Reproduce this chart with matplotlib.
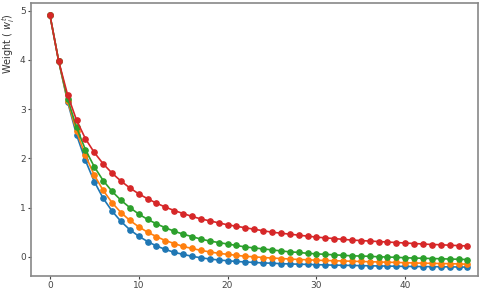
import numpy as np
import matplotlib
matplotlib.use('Agg')
import matplotlib.pyplot as plt

# iteracoes
steps = np.arange(48)

w_blue = [4.92, 3.97, 3.15, 2.48, 1.96, 1.53, 1.19, 0.93, 0.72, 0.55, 0.42, 0.31,
          0.22, 0.15, 0.09, 0.05, 0.01, -0.02, -0.045, -0.065, -0.08, -0.095, -0.105, -0.115,
          -0.125, -0.13, -0.14, -0.145, -0.15, -0.155, -0.16, -0.165, -0.17, -0.173, -0.176, -0.18,
          -0.183, -0.186, -0.189, -0.192, -0.195, -0.197, -0.199, -0.201, -0.203, -0.205, -0.207, -0.21]
w_orange = [4.92, 3.97, 3.17, 2.55, 2.06, 1.66, 1.35, 1.10, 0.90, 0.74, 0.61, 0.50,
            0.41, 0.33, 0.27, 0.21, 0.17, 0.13, 0.10, 0.07, 0.05, 0.03, 0.01, 0.0,
            -0.015, -0.025, -0.035, -0.045, -0.055, -0.06, -0.07, -0.075, -0.08, -0.085, -0.09, -0.095,
            -0.10, -0.105, -0.11, -0.115, -0.12, -0.125, -0.13, -0.133, -0.137, -0.14, -0.145, -0.15]
w_green = [4.92, 3.97, 3.21, 2.63, 2.18, 1.83, 1.55, 1.33, 1.15, 1.00, 0.87, 0.76,
           0.67, 0.59, 0.52, 0.46, 0.41, 0.36, 0.32, 0.29, 0.26, 0.23, 0.20, 0.18,
           0.16, 0.14, 0.12, 0.10, 0.09, 0.07, 0.06, 0.05, 0.04, 0.03, 0.02, 0.015,
           0.01, 0.0, -0.005, -0.01, -0.02, -0.025, -0.03, -0.035, -0.04, -0.045, -0.05, -0.055]
w_red = [4.92, 3.97, 3.29, 2.78, 2.40, 2.12, 1.89, 1.70, 1.54, 1.40, 1.28, 1.18,
         1.09, 1.01, 0.94, 0.88, 0.82, 0.77, 0.73, 0.69, 0.65, 0.62, 0.59, 0.56,
         0.53, 0.50, 0.48, 0.46, 0.44, 0.42, 0.40, 0.385, 0.37, 0.355, 0.34, 0.33,
         0.32, 0.31, 0.30, 0.29, 0.28, 0.27, 0.26, 0.25, 0.245, 0.235, 0.228, 0.22]

series = [(w_blue, 'tab:blue'), (w_orange, 'tab:orange'),
          (w_green, 'tab:green'), (w_red, 'tab:red')]

fig = plt.figure(figsize=(4.8, 2.9), dpi=100)
ax = fig.add_axes([0.065, 0.05, 0.931, 0.94])

for vals, cor in series:
    ax.plot(steps, vals, '-o', color=cor, lw=1.2, ms=3.8)

ax.set_xlim(-2.1, 48.2)
ax.set_ylim(-0.38, 5.16)
ax.set_xticks([0, 10, 20, 30, 40])
ax.set_yticks([0, 1, 2, 3, 4, 5])
# o rotulo fica la em cima, nao centralizado
ax.set_ylabel('Weight ( $w_i^t$)', fontsize=7, color='#333333')
ax.yaxis.set_label_coords(-0.031, 0.85)
ax.tick_params(labelsize=6.5, colors='#444444', length=2.5, width=0.8, pad=1.5)
for s in ax.spines.values():
    s.set_color('#888888')
    s.set_linewidth(1.2)

fig.savefig('out.png', dpi=100)
